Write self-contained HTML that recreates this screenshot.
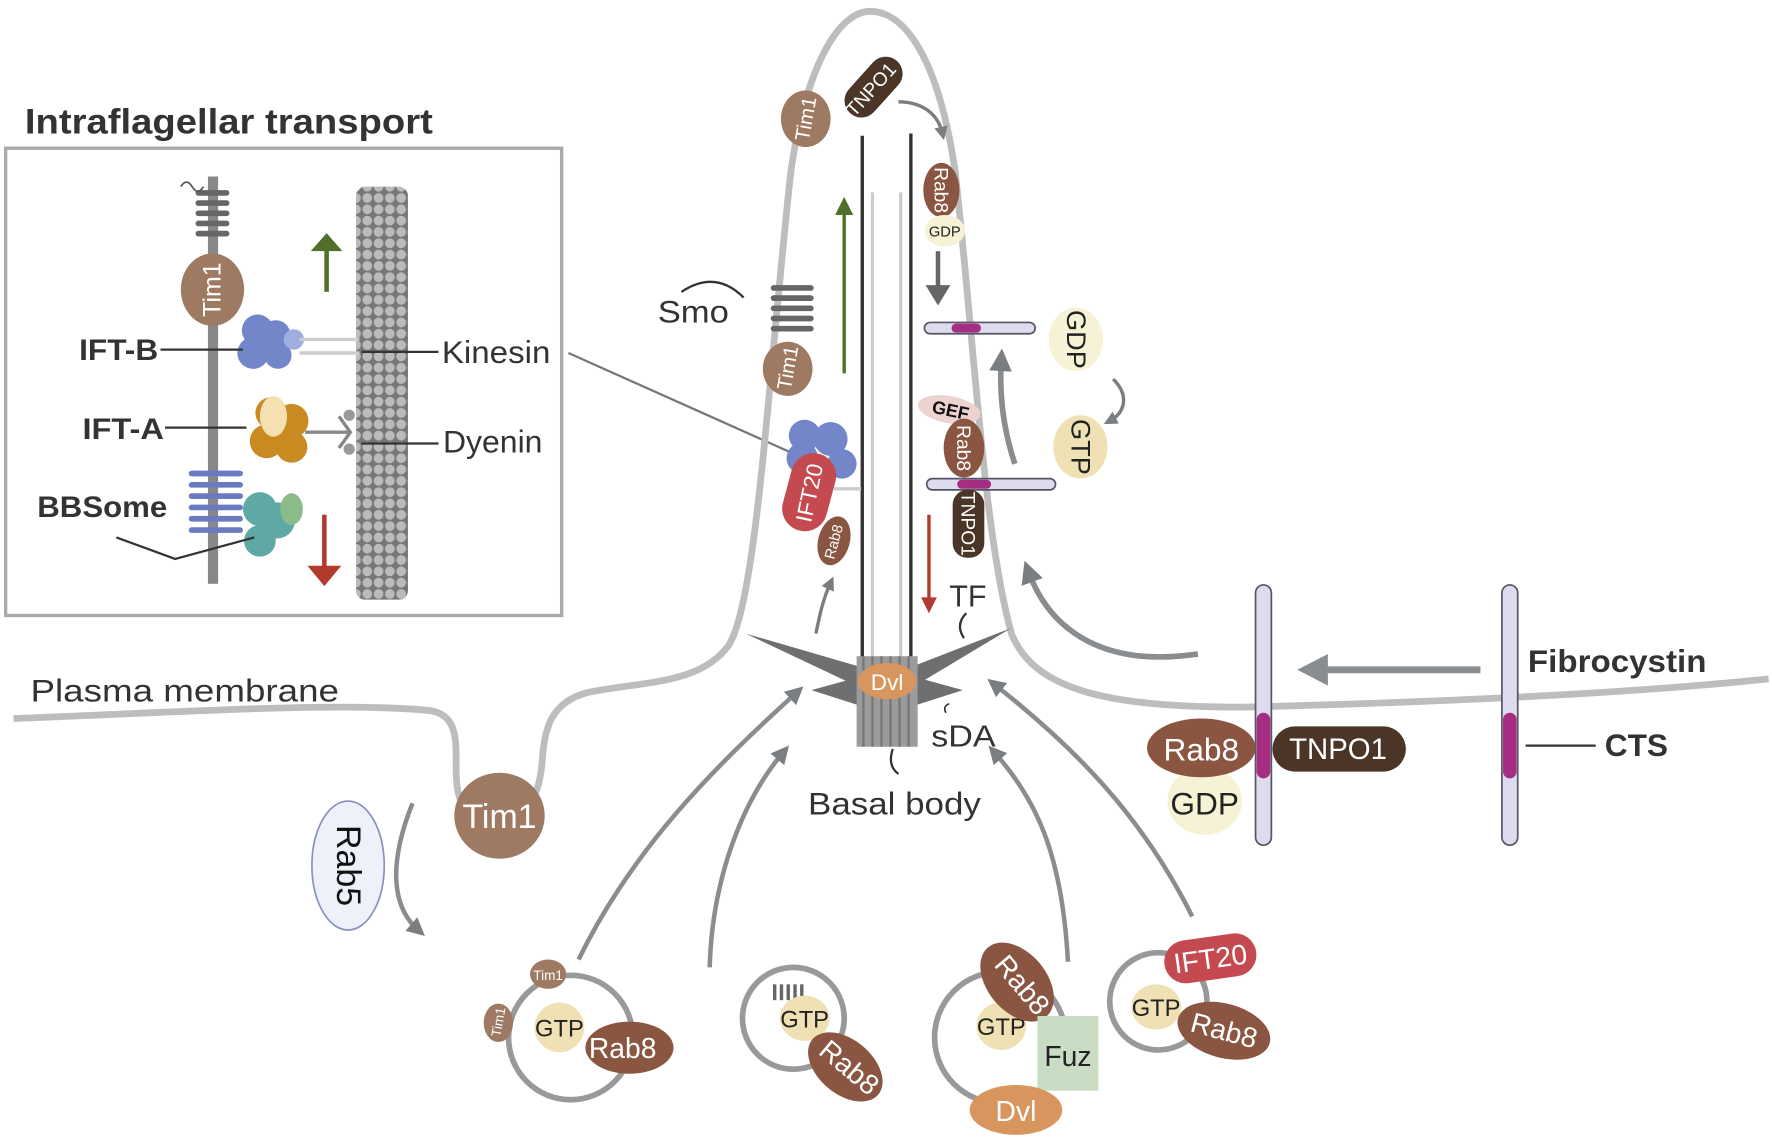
<!DOCTYPE html>
<html><head><meta charset="utf-8"><style>
html,body{margin:0;padding:0;background:#fff}
svg{display:block}
text{font-family:"Liberation Sans",sans-serif}
</style></head><body>
<svg width="1772" height="1145" viewBox="0 0 1568 1012" preserveAspectRatio="none" xmlns="http://www.w3.org/2000/svg">
<defs>
<marker id="ag" viewBox="0 0 10 10" refX="5" refY="5" markerWidth="4" markerHeight="4" orient="auto"><path d="M0,0L10,5L0,10z" fill="#7b7e80"/></marker>
<pattern id="mt" width="10" height="10" patternUnits="userSpaceOnUse"><rect width="10" height="10" fill="#777"/><circle cx="5" cy="5" r="4.3" fill="#bbb"/></pattern>
</defs>

<text x="22" y="118" font-size="31" font-weight="bold" fill="#333" textLength="361" lengthAdjust="spacingAndGlyphs">Intraflagellar transport</text>
<rect x="5" y="131" width="492" height="413" fill="none" stroke="#aaa" stroke-width="3"/>
<rect x="184" y="156" width="9" height="360" fill="#888"/>
<g fill="#666"><rect x="173" y="168" width="30" height="5" rx="2.5"/><rect x="173" y="177" width="30" height="5" rx="2.5"/><rect x="173" y="186" width="30" height="5" rx="2.5"/><rect x="173" y="195" width="30" height="5" rx="2.5"/><rect x="173" y="204" width="30" height="5" rx="2.5"/></g>
<path d="M160,165 q5,-8 10,0 q5,8 10,0" fill="none" stroke="#555" stroke-width="1.5"/>
<ellipse cx="188" cy="256" rx="28" ry="32" fill="#9f7a63"/>
<text x="0" y="0" font-size="22" fill="#fff" text-anchor="middle" transform="translate(195,256) rotate(-90)">Tim1</text>
<rect x="315" y="165" width="46" height="365" rx="8" fill="url(#mt)"/>
<path d="M289,258 L289,220" stroke="#4f6f2a" stroke-width="4"/><path d="M275,222 L289,206 L303,222z" fill="#4f6f2a"/>
<path d="M287,455 L287,502" stroke="#b03a2e" stroke-width="4"/><path d="M272,500 L287,518 L302,500z" fill="#b03a2e"/>
<g fill="#7386c9"><circle cx="228" cy="292" r="14"/><circle cx="244" cy="296" r="13"/><circle cx="224" cy="312" r="14"/><circle cx="246" cy="314" r="12"/><circle cx="260" cy="300" r="9" fill="#9eaee0"/></g>
<path d="M265,300 L318,300 M265,312 L318,312" stroke="#ccc" stroke-width="3"/>
<g fill="#c98a22"><circle cx="240" cy="365" r="14"/><circle cx="258" cy="372" r="15"/><circle cx="236" cy="390" r="15"/><circle cx="258" cy="395" r="14"/></g>
<ellipse cx="242" cy="368" rx="12" ry="18" fill="#f4e0b0"/>
<path d="M270,382 L310,382 M300,368 L310,382 L300,396" stroke="#888" stroke-width="3" fill="none"/>
<circle cx="309" cy="367" r="5" fill="#999"/><circle cx="309" cy="397" r="5" fill="#999"/>
<g fill="#6a7bc4"><rect x="167" y="416" width="48" height="5" rx="2.5"/><rect x="167" y="426" width="48" height="5" rx="2.5"/><rect x="167" y="436" width="48" height="5" rx="2.5"/><rect x="167" y="446" width="48" height="5" rx="2.5"/><rect x="167" y="456" width="48" height="5" rx="2.5"/><rect x="167" y="466" width="48" height="5" rx="2.5"/></g>
<g fill="#5ea9a3"><circle cx="230" cy="450" r="15"/><circle cx="245" cy="460" r="16"/><circle cx="230" cy="478" r="14"/></g>
<ellipse cx="258" cy="450" rx="10" ry="14" fill="#8cbb8a"/>
<g font-size="26" font-weight="bold" fill="#333"><text x="70" y="318" textLength="70" lengthAdjust="spacingAndGlyphs">IFT-B</text><text x="73" y="388" textLength="72" lengthAdjust="spacingAndGlyphs">IFT-A</text><text x="33" y="457" textLength="115" lengthAdjust="spacingAndGlyphs">BBSome</text></g>
<g stroke="#333" stroke-width="2"><path d="M142,309 L215,309"/><path d="M146,378 L218,378"/><path d="M103,475 L155,494 L225,475" fill="none"/><path d="M320,311 L388,311"/><path d="M320,392 L388,392"/></g>
<g font-size="28" fill="#333"><text x="391" y="321" textLength="96" lengthAdjust="spacingAndGlyphs">Kinesin</text><text x="392" y="400" textLength="88" lengthAdjust="spacingAndGlyphs">Dyenin</text></g>
<path d="M503,312 L700,400" stroke="#777" stroke-width="2"/>

<path d="M12,635 C150,630 300,620 380,628 C410,632 402,665 404,690 C406,720 420,722 440,722 C470,722 478,700 480,670 C482,640 490,620 520,612 C570,602 620,605 645,570 C670,530 680,330 700,150 C715,50 745,10 770,10 C800,10 830,50 845,150 C862,300 870,470 895,560 C915,610 980,625 1100,625 C1300,620 1450,612 1565,600" fill="none" stroke="#bdbdbd" stroke-width="6"/>
<path d="M1060,578 C980,590 930,560 910,505" fill="none" stroke="#8a8d8f" stroke-width="5" marker-end="url(#ag)"/>
<path d="M763,120 L763,582" stroke="#333" stroke-width="3"/>
<path d="M806,118 L806,582" stroke="#333" stroke-width="3"/>
<path d="M772,170 L772,582 M797,170 L797,582" stroke="#ccc" stroke-width="3"/>
<path d="M660,560 L770,592 L770,612 z" fill="#6f6f6f"/>
<path d="M895,555 L800,592 L800,612 z" fill="#6f6f6f"/>
<path d="M718,610 L765,597 L765,625 z" fill="#6f6f6f"/>
<path d="M852,610 L805,597 L805,625 z" fill="#6f6f6f"/>
<rect x="758" y="580" width="54" height="80" fill="#9b9b9b"/>
<g stroke="#777" stroke-width="2"><path d="M764,580V660M772,580V660M780,580V660M788,580V660M796,580V660M804,580V660"/></g>
<ellipse cx="785" cy="602" rx="26" ry="16" fill="#d9955e"/>
<text x="785" y="610" font-size="20" fill="#fff" text-anchor="middle">Dvl</text>
<text x="840" y="536" font-size="27" fill="#333">TF</text>
<path d="M855,542 q-10,10 -2,22" fill="none" stroke="#333" stroke-width="2"/>
<text x="824" y="660" font-size="27" fill="#333" textLength="57" lengthAdjust="spacingAndGlyphs">sDA</text>
<path d="M840,622 q-6,2 -3,8" fill="none" stroke="#333" stroke-width="1.5"/>
<text x="715" y="720" font-size="28" fill="#333" textLength="153" lengthAdjust="spacingAndGlyphs">Basal body</text>
<path d="M790,662 q-5,15 5,22" fill="none" stroke="#333" stroke-width="2"/>

<ellipse cx="713" cy="105" rx="22" ry="25" fill="#9f7a63"/>
<text font-size="18" fill="#fff" text-anchor="middle" transform="translate(719,106) rotate(-80)">Tim1</text>
<rect x="742" y="62" width="62" height="30" rx="15" fill="#4a3526" transform="rotate(-48 773 77)"/>
<text font-size="17" fill="#fff" text-anchor="middle" transform="translate(775,83) rotate(-48)">TNPO1</text>
<path d="M795,90 C815,90 830,100 834,118" fill="none" stroke="#7b7e80" stroke-width="3" marker-end="url(#ag)"/>
<ellipse cx="833" cy="168" rx="16" ry="24" fill="#8a5642"/>
<text font-size="17" fill="#fff" text-anchor="middle" transform="translate(827,168) rotate(90)">Rab8</text>
<ellipse cx="836" cy="204" rx="18" ry="14" fill="#f6f2d6"/>
<text x="836" y="209" font-size="13" fill="#222" text-anchor="middle">GDP</text>
<path d="M830,222 L830,256" stroke="#666" stroke-width="4"/><path d="M819,252 L830,270 L841,252z" fill="#666"/>
<rect x="818" y="285" width="98" height="10" rx="5" fill="#dcdcee" stroke="#556" stroke-width="1.5"/>
<rect x="842" y="286" width="26" height="8" rx="4" fill="#a52e82"/>
<ellipse cx="952" cy="300" rx="24" ry="28" fill="#f6f2d6"/>
<text font-size="24" fill="#222" text-anchor="middle" transform="translate(944,300) rotate(90)">GDP</text>
<path d="M985,335 C1000,350 995,365 982,372" fill="none" stroke="#7b7e80" stroke-width="3" marker-end="url(#ag)"/>
<ellipse cx="956" cy="395" rx="24" ry="28" fill="#efe1b4"/>
<text font-size="24" fill="#222" text-anchor="middle" transform="translate(948,395) rotate(90)">GTP</text>
<path d="M898,410 C888,380 884,350 886,318" fill="none" stroke="#8a8d8f" stroke-width="5" marker-end="url(#ag)"/>
<ellipse cx="840" cy="362" rx="28" ry="12" fill="#ecd3d0" transform="rotate(10 840 362)"/>
<text font-size="16" font-weight="bold" fill="#111" text-anchor="middle" transform="translate(840,368) rotate(12)">GEF</text>
<ellipse cx="853" cy="396" rx="18" ry="26" fill="#8a5642"/>
<text font-size="17" fill="#fff" text-anchor="middle" transform="translate(847,396) rotate(90)">Rab8</text>
<rect x="820" y="423" width="114" height="10" rx="5" fill="#dcdcee" stroke="#556" stroke-width="1.5"/>
<rect x="847" y="424" width="30" height="8" rx="4" fill="#a52e82"/>
<rect x="843" y="433" width="28" height="60" rx="13" fill="#4a3526"/>
<text font-size="17" fill="#fff" text-anchor="middle" transform="translate(851,463) rotate(90)">TNPO1</text>
<path d="M822,455 L822,530" stroke="#b03a2e" stroke-width="3"/><path d="M815,528 L822,542 L829,528z" fill="#b03a2e"/>
<path d="M747,330 L747,190" stroke="#4f6f2a" stroke-width="3"/><path d="M739,190 L747,174 L755,190z" fill="#4f6f2a"/>
<text x="582" y="285" font-size="28" fill="#333" textLength="63" lengthAdjust="spacingAndGlyphs">Smo</text>
<path d="M603,258 q30,-20 55,5" fill="none" stroke="#333" stroke-width="2"/>
<g fill="#666"><rect x="682" y="252" width="38" height="5" rx="2.5"/><rect x="682" y="261" width="38" height="5" rx="2.5"/><rect x="682" y="270" width="38" height="5" rx="2.5"/><rect x="682" y="279" width="38" height="5" rx="2.5"/><rect x="682" y="288" width="38" height="5" rx="2.5"/></g>
<ellipse cx="697" cy="326" rx="22" ry="24" fill="#9f7a63"/>
<text font-size="18" fill="#fff" text-anchor="middle" transform="translate(703,326) rotate(-80)">Tim1</text>
<g fill="#7386c9"><circle cx="712" cy="385" r="14"/><circle cx="735" cy="388" r="15"/><circle cx="710" cy="405" r="14"/><circle cx="745" cy="410" r="13"/></g>
<rect x="696" y="400" width="40" height="70" rx="20" fill="#c44a50" transform="rotate(15 716 435)"/>
<text font-size="20" fill="#fff" text-anchor="middle" transform="translate(723,437) rotate(-78)">IFT20</text>
<path d="M738,432 L762,432" stroke="#ccc" stroke-width="3"/>
<ellipse cx="738" cy="478" rx="14" ry="22" fill="#8a5642" transform="rotate(15 738 478)"/>
<text font-size="13" fill="#fff" text-anchor="middle" transform="translate(742,480) rotate(-75)">Rab8</text>
<path d="M722,560 C725,545 728,530 735,515" fill="none" stroke="#7b7e80" stroke-width="3" marker-end="url(#ag)"/>

<text x="27" y="620" font-size="28" fill="#333" textLength="273" lengthAdjust="spacingAndGlyphs">Plasma membrane</text>
<ellipse cx="442" cy="721" rx="40" ry="38" fill="#9f7a63"/>
<text x="442" y="732" font-size="30" fill="#fff" text-anchor="middle">Tim1</text>
<ellipse cx="308" cy="765" rx="32" ry="57" fill="#eef0fa" stroke="#8a90c0" stroke-width="1.5"/>
<text font-size="30" fill="#111" text-anchor="middle" transform="translate(298,765) rotate(90)">Rab5</text>
<path d="M365,710 C345,760 345,800 370,822" fill="none" stroke="#8a8d8f" stroke-width="4" marker-end="url(#ag)"/>

<rect x="1111" y="517" width="14" height="230" rx="7" fill="#dcdcee" stroke="#556" stroke-width="1.5"/>
<rect x="1112" y="630" width="12" height="58" rx="6" fill="#a52e82"/>
<rect x="1329" y="517" width="14" height="230" rx="7" fill="#dcdcee" stroke="#556" stroke-width="1.5"/>
<rect x="1330" y="630" width="12" height="58" rx="6" fill="#a52e82"/>
<path d="M1310,592 L1170,592" stroke="#8a8d8f" stroke-width="6"/><path d="M1175,578 L1148,592 L1175,606z" fill="#8a8d8f"/>
<text x="1352" y="594" font-size="28" font-weight="bold" fill="#333" textLength="158" lengthAdjust="spacingAndGlyphs">Fibrocystin</text>
<path d="M1350,659 L1412,659" stroke="#333" stroke-width="2"/>
<text x="1420" y="668" font-size="28" font-weight="bold" fill="#333">CTS</text>
<ellipse cx="1066" cy="708" rx="33" ry="30" fill="#f6f2d6"/>
<text x="1066" y="720" font-size="28" fill="#222" text-anchor="middle">GDP</text>
<ellipse cx="1063" cy="661" rx="48" ry="26" fill="#8a5642"/>
<text x="1063" y="672" font-size="28" fill="#fff" text-anchor="middle">Rab8</text>
<rect x="1126" y="642" width="118" height="40" rx="20" fill="#4a3526"/>
<text x="1184" y="671" font-size="26" fill="#fff" text-anchor="middle">TNPO1</text>

<g fill="none" stroke-width="4" marker-end="url(#ag)">
<path d="M512,848 C560,750 630,680 705,612" stroke="#8a8d8f"/>
<path d="M628,855 C630,780 655,710 693,665" stroke="#8a8d8f"/>
<path d="M945,850 C940,760 920,710 880,665" stroke="#8a8d8f"/>
<path d="M1055,810 C1010,720 950,660 880,605" stroke="#8a8d8f"/>
</g>

<circle cx="505" cy="917" r="55" fill="none" stroke="#999" stroke-width="5"/>
<ellipse cx="495" cy="908" rx="22" ry="22" fill="#efe1b4"/>
<text x="495" y="916" font-size="21" fill="#222" text-anchor="middle">GTP</text>
<ellipse cx="557" cy="926" rx="39" ry="23" fill="#8a5642"/>
<text x="551" y="935" font-size="25" fill="#fff" text-anchor="middle">Rab8</text>
<ellipse cx="485" cy="861" rx="16" ry="13" fill="#9f7a63"/>
<text x="485" y="866" font-size="12" fill="#fff" text-anchor="middle">Tim1</text>
<ellipse cx="441" cy="904" rx="13" ry="17" fill="#9f7a63"/>
<text font-size="12" fill="#fff" text-anchor="middle" transform="translate(445,904) rotate(-80)">Tim1</text>
<circle cx="702" cy="900" r="45" fill="none" stroke="#999" stroke-width="5"/>
<g fill="#666"><rect x="684" y="870" width="3" height="14"/><rect x="690" y="870" width="3" height="14"/><rect x="696" y="870" width="3" height="14"/><rect x="702" y="870" width="3" height="14"/><rect x="708" y="870" width="3" height="14"/></g>
<ellipse cx="712" cy="900" rx="22" ry="20" fill="#efe1b4"/>
<text x="712" y="908" font-size="21" fill="#222" text-anchor="middle">GTP</text>
<ellipse cx="748" cy="943" rx="38" ry="24" fill="#8a5642" transform="rotate(40 748 943)"/>
<text font-size="25" fill="#fff" text-anchor="middle" transform="translate(746,950) rotate(40)">Rab8</text>
<circle cx="885" cy="917" r="58" fill="none" stroke="#999" stroke-width="5"/>
<ellipse cx="886" cy="907" rx="22" ry="21" fill="#efe1b4"/>
<text x="886" y="915" font-size="21" fill="#222" text-anchor="middle">GTP</text>
<ellipse cx="900" cy="868" rx="40" ry="26" fill="#8a5642" transform="rotate(50 900 868)"/>
<text font-size="25" fill="#fff" text-anchor="middle" transform="translate(898,876) rotate(50)">Rab8</text>
<rect x="918" y="898" width="54" height="66" fill="#c9ddc5"/>
<text x="945" y="942" font-size="25" fill="#222" text-anchor="middle">Fuz</text>
<ellipse cx="899" cy="981" rx="41" ry="22" fill="#d9955e"/>
<text x="899" y="991" font-size="25" fill="#fff" text-anchor="middle">Dvl</text>
<circle cx="1025" cy="885" r="43" fill="none" stroke="#999" stroke-width="5"/>
<ellipse cx="1023" cy="890" rx="22" ry="20" fill="#efe1b4"/>
<text x="1023" y="898" font-size="21" fill="#222" text-anchor="middle">GTP</text>
<rect x="1030" y="828" width="82" height="38" rx="19" fill="#c44a50" transform="rotate(-8 1071 847)"/>
<text x="1071" y="856" font-size="25" fill="#fff" text-anchor="middle" transform="rotate(-8 1071 847)">IFT20</text>
<ellipse cx="1083" cy="911" rx="42" ry="24" fill="#8a5642" transform="rotate(15 1083 911)"/>
<text font-size="25" fill="#fff" text-anchor="middle" transform="translate(1081,919) rotate(15)">Rab8</text>
</svg>
</body></html>
